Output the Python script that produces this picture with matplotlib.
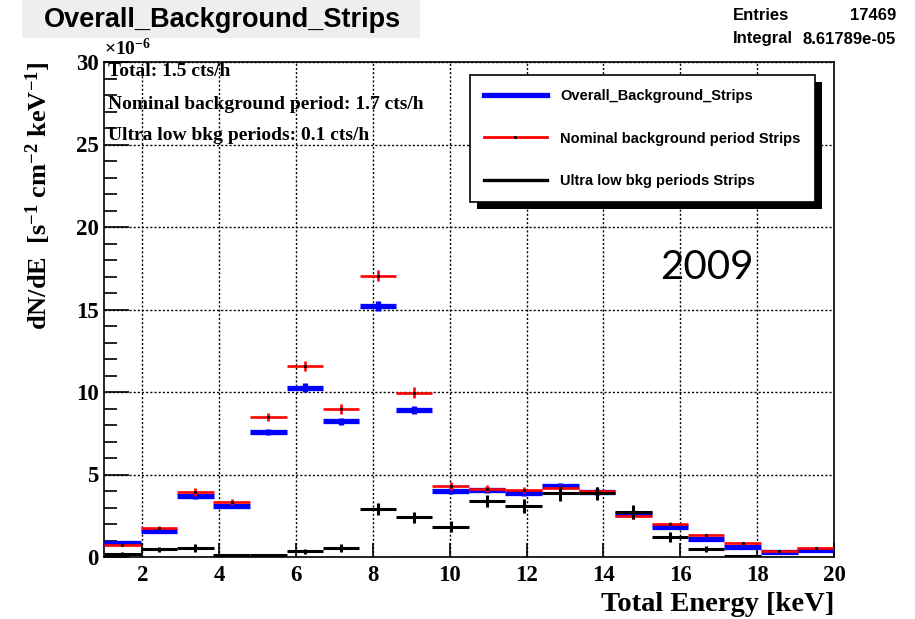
import numpy as np
import matplotlib
matplotlib.use("Agg")
import matplotlib.pyplot as plt
from matplotlib.lines import Line2D
from matplotlib.patches import Rectangle

# energy binning: 20 bins between 1 and 20 keV
energy_edges = np.linspace(1.0, 20.0, 21)

# dN/dE in units of 1e-6 s^-1 cm^-2 keV^-1
overall = [0.85, 1.58, 3.72, 3.12, 7.58, 10.27, 8.22, 15.22, 8.93, 4.02,
           4.08, 3.88, 4.28, 3.96, 2.62, 1.84, 1.09, 0.62, 0.28, 0.40]
overall_err = [0.04, 0.08, 0.2, 0.15, 0.18, 0.25, 0.22, 0.3, 0.25, 0.18,
               0.18, 0.18, 0.18, 0.18, 0.15, 0.1, 0.08, 0.06, 0.04, 0.04]
nominal = [0.72, 1.78, 3.92, 3.33, 8.48, 11.6, 8.97, 17.05, 9.96, 4.30,
           4.15, 4.06, 4.16, 4.02, 2.48, 1.98, 1.32, 0.82, 0.36, 0.52]
nominal_err = [0.05, 0.1, 0.25, 0.2, 0.22, 0.3, 0.28, 0.35, 0.32, 0.23,
               0.2, 0.2, 0.2, 0.2, 0.15, 0.12, 0.1, 0.08, 0.05, 0.05]
ultra_low = [0.2, 0.47, 0.56, 0.12, 0.1, 0.35, 0.56, 2.9, 2.4, 1.84,
             3.39, 3.09, 3.86, 3.86, 2.75, 1.23, 0.47, 0.06, 0.0, 0.0]
ultra_low_err = [0.08, 0.15, 0.25, 0.08, 0.08, 0.15, 0.25, 0.35, 0.35, 0.35,
                 0.38, 0.43, 0.45, 0.38, 0.43, 0.3, 0.17, 0.05, 0.0, 0.0]

rate_lines = ["Total: 1.5 cts/h",
              "Nominal background period: 1.7 cts/h",
              "Ultra low bkg periods: 0.1 cts/h"]
series_names = ["Overall_Background_Strips",
                "Nominal background period Strips",
                "Ultra low bkg periods Strips"]

plt.rcParams["mathtext.fontset"] = "custom"
plt.rcParams["mathtext.rm"] = "Liberation Serif:bold"
plt.rcParams["mathtext.it"] = "Liberation Serif:bold"
plt.rcParams["mathtext.bf"] = "Liberation Serif:bold"
plt.rcParams["mathtext.default"] = "rm"

W, H = 915, 619
fig = plt.figure(figsize=(W / 100, H / 100), dpi=100)
ax = fig.add_axes([104 / W, 62 / H, 730 / W, 495 / H])

centers = 0.5 * (energy_edges[:-1] + energy_edges[1:])
half = 0.5 * np.diff(energy_edges)

ax.errorbar(centers, overall, xerr=half, yerr=overall_err, fmt="none",
            ecolor="#0000ff", elinewidth=3.8, capsize=0, zorder=3)
ax.errorbar(centers, nominal, xerr=half, yerr=nominal_err, fmt=".",
            color="black", ms=2.5, ecolor="#ff0000", elinewidth=1.9,
            capsize=0, zorder=4)
ul = np.array(ultra_low)
mask = ul > 0
ax.errorbar(centers[mask], ul[mask], xerr=half[mask],
            yerr=np.array(ultra_low_err)[mask], fmt="none",
            ecolor="black", elinewidth=2.2, capsize=0, zorder=5)

ax.set_xlim(1, 20)
ax.set_ylim(0, 30)
ax.set_xticks(np.arange(2, 21, 2))
ax.set_yticks(np.arange(0, 31, 5))
ax.set_yticks(np.arange(0, 31, 1), minor=True)
ax.grid(True, which="major", color="black", linestyle=(0, (1.5, 1.5)), linewidth=1.0)
ax.tick_params(axis="both", which="both", direction="in", right=False, top=False)
ax.tick_params(axis="y", which="major", length=18, width=1.2, pad=4)
ax.tick_params(axis="y", which="minor", length=9, width=1.2)
ax.tick_params(axis="x", which="major", length=10, width=1.2, pad=6)
for lab in ax.get_xticklabels() + ax.get_yticklabels():
    lab.set_fontfamily("Liberation Serif")
    lab.set_fontweight("bold")
    lab.set_fontsize(16.5)
for sp in ax.spines.values():
    sp.set_linewidth(1.2)

ax.set_xlabel("Total Energy [keV]", fontfamily="Liberation Serif",
              fontweight="bold", fontsize=20.5, ha="right", va="top")
ax.xaxis.set_label_coords(1.0, -0.07)
ax.set_ylabel(r"dN/dE  [s$^{-1}$ cm$^{-2}$ keV$^{-1}$]", fontfamily="Liberation Serif",
              fontweight="bold", fontsize=19, ha="right", va="bottom")
ax.yaxis.set_label_coords(-0.07, 1.0)

ax.text(0.0, 1.005, "×10$^{-6}$", transform=ax.transAxes, fontfamily="Liberation Serif",
        fontweight="bold", fontsize=14, va="bottom", ha="left")

for txt, yy in zip(rate_lines, [0.98, 0.914, 0.852]):
    ax.text(0.006, yy, txt, transform=ax.transAxes, fontfamily="Liberation Serif",
            fontweight="bold", fontsize=14, va="center", ha="left", zorder=2)

ax.text(0.762, 0.585, "2009", transform=ax.transAxes, fontfamily="Lato",
        fontsize=29, va="center", ha="left", zorder=6)

# legend with a solid drop shadow
handles = [Line2D([], [], color="#0000ff", lw=3.8),
           Line2D([], [], color="#ff0000", lw=2.0, marker=".", ms=2.5,
                  mfc="black", mec="black"),
           Line2D([], [], color="black", lw=2.4)]
leg = ax.legend(handles, series_names, loc="upper left",
                bbox_to_anchor=(470 / W, 1 - 75 / H, 345 / W, 0.0),
                bbox_transform=fig.transFigure, mode="expand",
                prop={"family": "Liberation Sans", "weight": "bold", "size": 10.5},
                frameon=True, fancybox=False, edgecolor="black", framealpha=1,
                handlelength=4.3, handletextpad=0.95, labelspacing=1.97,
                borderpad=0.95, borderaxespad=0)
leg.get_frame().set_linewidth(1.2)
leg.set_zorder(8)
fig.canvas.draw()
bb = leg.get_window_extent().transformed(fig.transFigure.inverted())
ax.add_patch(Rectangle((bb.x0 + 7 / W, bb.y0 - 7 / H), bb.width, bb.height,
                       transform=fig.transFigure, facecolor="black",
                       edgecolor="none", zorder=7, clip_on=False))

# title box
fig.add_artist(Rectangle((22 / W, 1 - 38 / H), 398 / W, 38 / H,
                         transform=fig.transFigure, facecolor="#eeeeee",
                         edgecolor="none", zorder=3))
fig.text(222 / W, 1 - 20 / H, "Overall_Background_Strips", fontfamily="Liberation Sans",
         fontweight="bold", fontsize=19.5, ha="center", va="center", zorder=4)

# statistics box
for lbl, val, yy in [("Entries", "17469", 16), ("Integral", "8.61789e-05", 39)]:
    fig.text(733 / W, 1 - yy / H, lbl, fontfamily="Liberation Sans", fontweight="bold",
             fontsize=12, ha="left", va="center")
    fig.text(896 / W, 1 - yy / H, val, fontfamily="Liberation Sans", fontweight="bold",
             fontsize=12, ha="right", va="center")

fig.savefig("out.png", dpi=100)
